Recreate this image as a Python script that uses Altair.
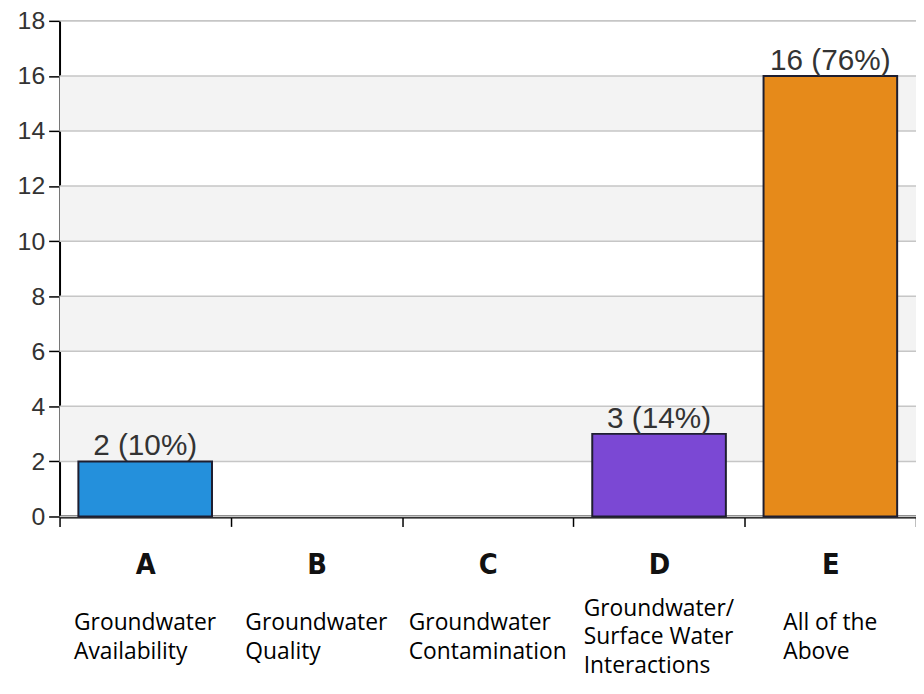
import altair as alt
import pandas as pd

# ---- data ----
letters = ["A", "B", "C", "D", "E"]
descriptions = [
    "Groundwater\nAvailability",
    "Groundwater\nQuality",
    "Groundwater\nContamination",
    "Groundwater/\nSurface Water\nInteractions",
    "All of the\nAbove",
]
counts = [2, 0, 0, 3, 16]
percents = [10, 0, 0, 14, 76]
bar_colors = ["#2490dc", "#2490dc", "#2490dc", "#7b48d4", "#e68a1a"]
band_starts = [2, 6, 10, 14]
band_size = 2
grid_values = [0, 2, 4, 6, 8, 10, 12, 14, 16, 18]

# approximate Open Sans advance widths (em) used to centre the left-aligned text blocks
CHAR_EM = {' ': 0.26, '/': 0.37, 'A': 0.63, 'C': 0.63, 'G': 0.72, 'I': 0.29,
           'Q': 0.78, 'S': 0.55, 'W': 0.93, 'a': 0.56, 'b': 0.61, 'c': 0.48,
           'd': 0.61, 'e': 0.56, 'f': 0.34, 'h': 0.61, 'i': 0.26, 'l': 0.26,
           'm': 0.93, 'n': 0.61, 'o': 0.6, 'q': 0.61, 'r': 0.41, 's': 0.47,
           't': 0.35, 'u': 0.61, 'v': 0.5, 'w': 0.8, 'y': 0.5}
DESC_SIZE = 23

df = pd.DataFrame({
    "letter": letters,
    "desc": descriptions,
    "count": counts,
    "pct": percents,
    "color": bar_colors,
})
df["label"] = [f"{c} ({p}%)" if c > 0 else "" for c, p in zip(counts, percents)]
df["nlines"] = [len(d.split("\n")) for d in descriptions]
df["half_em"] = [max(sum(CHAR_EM.get(ch, 0.57) for ch in s) for s in d.split("\n")) / 2
                 for d in descriptions]

bands = pd.DataFrame({"y": band_starts, "y2": [b + band_size for b in band_starts]})
grid = pd.DataFrame({"y": grid_values})

W, H = 864, 500

x_enc = alt.X(
    "letter:N",
    sort=letters,
    scale=alt.Scale(paddingInner=0, paddingOuter=0),
    axis=alt.Axis(
        title=None,
        labelAngle=0,
        labelFont="DejaVu Sans Condensed, Liberation Sans",
        labelFontWeight="bold",
        labelFontSize=29,
        labelColor="#111111",
        labelPadding=25,
        domainColor="#000000",
        domainWidth=3,
        tickColor="#000000",
        tickWidth=1.5,
        tickSize=10,
        tickBand="extent",
        grid=False,
    ),
)
y_scale = alt.Scale(domain=[0, 18], nice=False)

band_layer = alt.Chart(bands).mark_rect(color="#f3f3f3").encode(
    y=alt.Y("y:Q", scale=y_scale,
            axis=alt.Axis(
                title=None,
                values=grid_values,
                labelFont="Liberation Sans",
                labelFontSize=25,
                labelColor="#333333",
                labelPadding=4,
                domainColor="#000000",
                domainWidth=2,
                tickColor="#000000",
                tickWidth=1.5,
                tickSize=11,
                grid=False,
            )),
    y2="y2:Q",
    x=alt.value(0),
    x2=alt.value("width"),
)

grid_layer = alt.Chart(grid).mark_rule(color="#c6c6c6", strokeWidth=1.5).encode(
    y=alt.Y("y:Q", scale=y_scale),
)

bar_layer = alt.Chart(df).transform_filter("datum.count > 0").mark_bar(
    width=alt.RelativeBandSize(0.78),
    stroke="#1e1e30",
    strokeWidth=2,
).encode(
    x=x_enc,
    y=alt.Y("count:Q", scale=y_scale),
    color=alt.Color("color:N", scale=None),
)

label_layer = alt.Chart(df).transform_filter("datum.count > 0").mark_text(
    font="Liberation Sans",
    fontSize=30,
    color="#333333",
    baseline="alphabetic",
    dy=-6,
).encode(
    x=alt.X("letter:N", sort=letters),
    y=alt.Y("count:Q", scale=y_scale),
    text="label:N",
)

desc_layer = alt.Chart(df).mark_text(
    font="Open Sans",
    fontSize=DESC_SIZE,
    color="#000000",
    lineBreak="\n",
    lineHeight=29,
    baseline="middle",
    align="left",
    dx=alt.expr(f"-datum.half_em * {DESC_SIZE}"),
    dy=alt.expr("-(datum.nlines - 1) * 14.5"),
).encode(
    x=alt.X("letter:N", sort=letters),
    y=alt.value(622),
    text="desc:N",
)

chart = alt.layer(band_layer, grid_layer, bar_layer, label_layer, desc_layer).properties(
    width=W,
    height=H,
    autosize=alt.AutoSizeParams(type="none"),
    padding={"left": 52, "top": 10, "right": 0, "bottom": 164},
).configure_view(stroke=None).configure(background="#ffffff")

chart.save("out.html", embed_options={"renderer": "svg", "actions": False})
